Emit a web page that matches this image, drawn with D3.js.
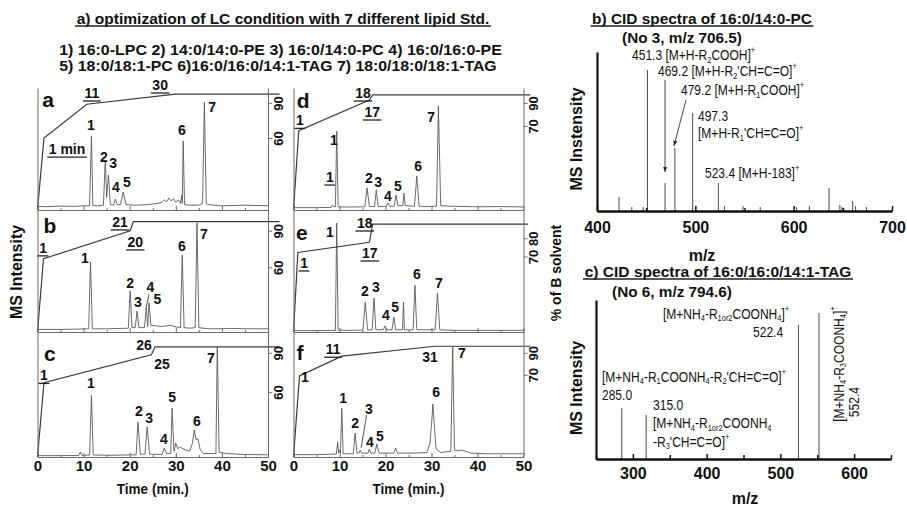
<!DOCTYPE html>
<html>
<head>
<meta charset="utf-8">
<script src="https://cdn.jsdelivr.net/npm/d3@7"></script>
<style>
body{margin:0;background:#fff}
svg{display:block;font-family:"Liberation Sans",Arial,sans-serif}
</style>
</head>
<body>
<svg id="fig" width="907" height="508"></svg>
<script>
// ---------- values ----------
var timeTicks = [0,10,20,30,40,50];
var timeMinor = [5,15,25,35,45];

// chromatogram traces [time (min), intensity % of panel]
var traceA = [[0,0.5],[2,0.3],[5,0.8],[8,0.5],[10,1],[11.3,1],[11.7,59.7],[12.0,1.5],[13,1],[14.3,1.5],[14.7,39.5],[15.0,8],[15.4,26.9],[15.8,2],[16.5,1.5],[16.9,6.7],[17.3,2],[18.0,2],[18.6,12.6],[19.2,2],[21,1.5],[24,2],[26,3],[27,4],[27.5,6],[28,4.5],[28.5,7.6],[29,5],[29.5,7],[30,4],[30.5,6],[31,3],[31.3,10],[31.4,3],[31.6,55.5],[31.9,2],[33,1.5],[35,1.5],[35.8,3],[36.2,88.2],[36.6,3],[37,2],[40,1],[45,1.5],[50,1]];
var traceB = [[0,0.5],[5,0.5],[9,0.8],[11.1,1],[11.5,57],[11.9,1],[15,1],[19.7,1.5],[20.1,32.8],[20.5,2],[21.2,2],[21.6,16],[22,2],[23.2,2],[23.6,18.5],[23.9,3],[24.2,22.7],[24.6,4],[25.5,3.5],[27,3],[28,3.5],[29,4],[29.6,3],[30.2,2.5],[31.0,2],[31.4,63],[31.8,2],[33,1.5],[34.2,2],[34.6,90],[35,2],[37,1],[42,1.2],[47,1],[50,1]];
var traceC = [[0,0.3],[5,0.3],[9,0.5],[9.3,3.2],[9.6,0.5],[11.3,0.8],[11.7,49],[12.1,0.8],[16,0.6],[21.4,1],[21.8,27.4],[22.3,1.5],[23.3,1.5],[23.8,23.4],[24.3,1.5],[27,1.2],[27.5,6.5],[28,2],[28.9,2],[29.2,38.7],[29.6,4],[30,10.5],[30.4,6],[31,7],[32,5],[33,4],[33.6,10],[34.0,21],[34.4,13],[34.8,14],[35.3,5],[36,2],[38.7,2],[39,88],[39.4,3],[41,2],[45,1.2],[50,1]];
var traceD = [[0,0.3],[5,0.3],[8.2,0.5],[8.5,2.5],[8.8,0.8],[9.1,1],[9.4,64],[9.7,1],[12,0.8],[15.5,1],[16,16.7],[16.5,1.2],[17.6,1.2],[18,15],[18.4,1.2],[20.1,1.2],[20.5,4.2],[20.9,1.5],[21.9,1.5],[22.3,10.8],[22.7,2],[23.8,2],[24,12.5],[24.3,2],[26.3,1.5],[26.8,26.7],[27.3,1.5],[29,1.2],[31.1,1.5],[31.5,85],[32,2],[34,1.5],[40,1],[45,1.2],[50,0.8]];
var traceE = [[0,0.3],[5,0.3],[9.1,0.5],[9.4,90],[9.7,0.8],[12,0.5],[15.1,0.8],[15.6,24],[16.1,1],[17.1,1],[17.5,27.5],[17.9,1],[19.5,1],[19.9,4.2],[20.3,1],[21.4,1],[21.8,11.7],[22.2,1],[23.7,1],[23.9,24],[24.1,1],[26.0,1],[26.4,38],[26.8,1],[30.8,1],[31.3,31.7],[31.8,1],[35,0.5],[40,0.5],[50,0.5]];
var traceF = [[0,0.3],[5,0.3],[9.3,0.8],[9.6,10.6],[9.8,1.5],[10.0,4],[10.2,1.5],[10.5,38],[10.8,1],[13,1],[13.4,17.9],[13.8,1.5],[14.2,1.5],[14.5,4],[14.8,1.5],[16.2,1.5],[16.5,4.9],[16.8,1.5],[17.7,1.5],[18.1,9],[18.6,1.5],[21.8,1.5],[22.2,5.7],[22.6,1.5],[26,1.5],[29,2],[29.7,10],[30.1,30],[30.3,41.5],[30.6,25],[31,5],[32,2],[34.2,3],[34.6,88],[35,4],[35.8,3.5],[36.5,4],[37.5,3],[38.5,1.5],[42,1],[50,1]];

// solvent gradients [time (min), % of B]
var gradA = [[0,-2],[1.4,60],[10.7,89],[29.9,97.7],[52.5,97.7]];
var gradB = [[0,7],[1.3,67],[20.1,90],[20.8,97.5],[52.5,97.5]];
var gradC = [[0,10],[1.4,67],[24.7,88.5],[25.5,94.6],[52.5,94.6]];
var gradD = [[0,-3],[1.15,66],[16.5,92.6],[17.2,97],[51.5,97]];
var gradE = [[0,28.3],[0.95,72.2],[16.5,77.8],[17.2,87.8],[51,87.8]];
var gradF = [[0,-5],[1.3,69],[10.5,87],[30.7,96],[51.5,96]];

// annotations [text, time, intensity, kind: 0 peak no., 1 underlined, 2 panel letter]
var notesA = [["a",2.3,90.8,2],["11",11.8,95.8,1],["30",26.6,102.5,1],["1 min",6.4,48.7,1],["1",11.6,69,0],["2",14.4,42,0],["3",16.4,37,0],["4",17.0,16.8,0],["5",19.4,21,0],["6",31.3,64.7,0],["7",37.9,84,0]];
var notesB = [["b",2.7,88,2],["21",17.9,90.8,1],["20",21.2,74,1],["1",1.2,69,1],["1",10.3,60.5,0],["2",20.1,39.5,0],["3",21.8,23.5,0],["4",24.5,36,0],["5",26.0,26,0],["6",31.3,70.6,0],["7",36.1,80.7,0]];
var notesC = [["c",2.7,83,2],["26",23.1,89.5,0],["25",27,74,0],["1",1.4,65,1],["1",11.6,59,0],["2",22,36,0],["3",24.2,30.6,0],["4",27.4,13.7,0],["5",29.2,47.6,0],["6",34.6,28,0],["7",37.6,79,0]];
var notesD = [["d",2.1,90,2],["18",15.1,95.8,1],["17",17.1,80,1],["1",1.4,73,1],["1",7.9,25.8,1],["1",8.8,56.7,0],["2",16.4,25,0],["3",18.4,21.7,0],["4",20.5,10,0],["5",22.7,18.3,0],["6",27.1,35,0],["7",29.9,75.8,0]];
var notesE = [["e",1.8,82.5,2],["1",7.9,82.5,0],["18",15.5,90,1],["17",16.6,65,1],["1",2.3,56.7,1],["2",15.5,33.3,0],["3",17.9,36.7,0],["4",20.1,13.3,0],["5",22.1,20,0],["6",26.8,47.5,0],["7",31.6,40,0]];
var notesF = [["f",1.4,83.7,2],["11",8.6,86,1],["31",29.7,79.7,0],["1",2.5,63.4,0],["1",10.8,46.3,0],["2",13.4,26,0],["3",16.4,37.4,0],["4",16.6,10.6,0],["5",18.8,15.4,0],["6",31,51,0],["7",36.6,83,0]];
var leadB = [[24.2,30],[23.5,17.6]];
var leadF = [[15.9,32.5],[14.7,5.7]];

// CID spectrum of 16:0/14:0-PC
var specBmz  = [422.4,435.4,447,451.3,469.2,479.2,497.3,523.4,529.6,548.6,566,603,616,636,647,649,651,660,663,674];
var specBint = [8.8,2.5,2.5,88.7,17.6,39.6,61.6,17.6,3.1,3.1,2.5,2.5,3.1,14.5,3.8,2.5,1.9,6.3,3.1,2.5];
var specBticks = [400,500,600,700];
var specBnotes = [["451.3 [M+H-R_{2}COOH]^{+}",435.6,98.1],["469.2 [M+H-R_{2}'CH=C=O]^{+}",462,88],["479.2 [M+H-R_{1}COOH]^{+}",485.4,76.1],["497.3",502.7,59.7],["[M+H-R_{1}'CH=C=O]^{+}",502.7,49],["523.4 [M+H-183]^{+}",509.8,23.9]];
var specBarrows = [[469.2,82.4,469.2,24.5],[490.5,69.8,478.3,40.9]];

// CID spectrum of 16:0/16:0/14:1-TAG
var specCmz  = [285,318,524.5,552.4];
var specCint = [32,27.7,84.3,91.8];
var specCticks = [300,400,500,600];
var specCminor = [250,350,450,550,650];
var specCnotes = [["[M+NH_{4}-R_{1or2}COONH_{4}]^{+}",340.8,91.2],["522.4",462.9,79.9],["[M+NH_{4}-R_{1}COONH_{4}-R_{2}'CH=C=O]^{+}",258.1,51.6],["285.0",258.1,40.3],["315.0",327.3,34],["[M+NH_{4}-R_{1or2}COONH_{4}",327.3,22.6],["-R_{3}'CH=C=O]^{+}",327.3,10.7]];
var specCrot = [["[M+NH_{4}-R_{3}COONH_{4}]^{+}",579,59.7],["552.4",599,35.8]];

// ---------- drawing ----------
var svg = d3.select("#fig");

svg.append("defs").append("marker")
  .attr("id","arr").attr("viewBox","0 0 8 6").attr("refX",8).attr("refY",3)
  .attr("markerWidth",6).attr("markerHeight",5).attr("orient","auto")
  .append("path").attr("d","M0,0L8,3L0,6z").attr("fill","#222");

function rich(text, str) {
  str.split(/(_\{[^}]*\}|\^\{[^}]*\})/).forEach(function(s){
    if (!s) return;
    if (s[0]=="_") text.append("tspan").attr("baseline-shift","sub").style("font-size","0.62em").text(s.slice(2,-1));
    else if (s[0]=="^") text.append("tspan").attr("baseline-shift","super").style("font-size","0.62em").text(s.slice(2,-1));
    else text.append("tspan").text(s);
  });
}

function place(parent, x, y, str, o) {
  o = o || {};
  var g = parent.append("g").attr("transform","translate("+x+","+y+")"+(o.rot ? " rotate("+o.rot+")" : ""));
  var t = g.append("text")
    .attr("text-anchor", o.anchor || "middle")
    .attr("dominant-baseline","central")
    .style("font-size",(o.size||14)+"px")
    .style("font-weight",o.weight||"bold")
    .attr("fill","#111");
  rich(t, str);
  var w = t.node().getComputedTextLength();
  var s = o.width ? o.width/w : (o.sx || 1);
  t.attr("transform","scale("+s+",1)");
  if (o.ul) {
    var x0 = (o.anchor=="start" ? 0 : -w*s/2) - 1.5;
    g.append("line").attr("x1",x0).attr("x2",x0+w*s+3).attr("y1",o.ul).attr("y2",o.ul)
      .attr("stroke","#222").attr("stroke-width",1.3);
  }
  return t;
}

// headings
place(svg,283,18,"a) optimization of LC condition with 7 different lipid Std.",{size:15,width:413,ul:8});
place(svg,280.5,49,"1) 16:0-LPC  2) 14:0/14:0-PE  3) 16:0/14:0-PC  4) 16:0/16:0-PE",{size:15,width:443});
place(svg,278,65,"5) 18:0/18:1-PC  6)16:0/16:0/14:1-TAG  7) 18:0/18:0/18:1-TAG",{size:15,width:438});

// chromatogram panels
var cols = [{x0:37.5,x1:268},{x0:293.5,x1:523.5}];
var rows = [{top:88,bot:210},{top:210,bot:332},{top:332,bot:457}];
var panels = [
  {col:0,row:0,base:207,h:119,trace:traceA,grad:gradA,gdom:[-2,103],gticks:[60,90],notes:notesA},
  {col:0,row:1,base:330,h:119,trace:traceB,grad:gradB,gdom:[7,107],gticks:[60,90],notes:notesB,lead:leadB},
  {col:0,row:2,base:456,h:124,trace:traceC,grad:gradC,gdom:[10,106],gticks:[60,90],notes:notesC},
  {col:1,row:0,base:208,h:120,trace:traceD,grad:gradD,gdom:[-3,103],gticks:[70,90],notes:notesD},
  {col:1,row:1,base:331,h:120,trace:traceE,grad:gradE,gdom:[28.3,95.6],gticks:[70,80],notes:notesE},
  {col:1,row:2,base:455,h:123,trace:traceF,grad:gradF,gdom:[-5,109],gticks:[70,90],notes:notesF,lead:leadF}
];

panels.forEach(function(p){
  var c = cols[p.col], r = rows[p.row];
  var x = d3.scaleLinear().domain([0,50]).range([c.x0,c.x1]);
  var yI = d3.scaleLinear().domain([0,100]).range([p.base,p.base-p.h]);
  var yG = d3.scaleLinear().domain(p.gdom).range([r.bot,r.top]);
  var g = svg.append("g");

  g.append("path").datum(p.trace)
    .attr("d",d3.line().x(function(d){return x(d[0])}).y(function(d){return yI(d[1])}))
    .attr("fill","none").attr("stroke","#5a5a5a").attr("stroke-width",0.9);

  g.append("path").datum(p.grad)
    .attr("d",d3.line().x(function(d){return x(d[0])}).y(function(d){return yG(d[1])}))
    .attr("fill","none").attr("stroke","#3a3a3a").attr("stroke-width",1.2);

  var bx = g.append("g").attr("transform","translate(0,"+r.bot+")")
    .call(d3.axisBottom(x).tickValues(timeTicks).tickSize(-4).tickSizeOuter(0).tickPadding(3)
      .tickFormat(p.row==2 ? d3.format("d") : function(){return ""}));
  g.append("g").attr("transform","translate(0,"+r.bot+")")
    .call(d3.axisBottom(x).tickValues(timeMinor).tickSize(-2).tickSizeOuter(0).tickFormat(function(){return ""}));
  g.append("g").attr("transform","translate("+c.x0+",0)")
    .call(d3.axisLeft(yG).tickValues([]).tickSizeOuter(0));
  var ra = g.append("g").attr("transform","translate("+c.x1+",0)")
    .call(d3.axisRight(yG).tickValues(p.gticks).tickSize(4).tickSizeOuter(0));
  ra.selectAll("text").attr("x",null).attr("dy",null)
    .attr("transform","translate(10,0) rotate(-90)")
    .attr("text-anchor","middle").attr("dominant-baseline","central")
    .style("font-size","13px").style("font-weight","bold").attr("fill","#111");
  bx.selectAll("text").style("font-size","15px").style("font-weight","bold").attr("fill","#111");
  g.selectAll(".domain, .tick line").attr("stroke","#6a6a6a");

  p.notes.forEach(function(n){
    place(g, x(n[1]), yI(n[2]), n[0], {size: n[3]==2 ? 21 : 14, ul: n[3]==1 ? 8 : 0});
  });
  if (p.lead) {
    g.append("path").datum(p.lead)
      .attr("d",d3.line().x(function(d){return x(d[0])}).y(function(d){return yI(d[1])}))
      .attr("stroke","#444").attr("stroke-width",0.9).attr("fill","none");
  }
});

place(svg,16,272,"MS Intensity",{size:16,rot:-90});
place(svg,556,273,"% of B solvent",{size:14,rot:-90});
place(svg,152.75,489,"Time (min.)",{size:14,width:72});
place(svg,408.5,489,"Time (min.)",{size:14,width:72});

// spectrum b
var xB = d3.scaleLinear().domain([400,700]).range([597,892]);
var yB = d3.scaleLinear().domain([0,100]).range([211,52]);
var gB = svg.append("g");
place(gB,702,18,"b) CID spectra of 16:0/14:0-PC",{size:15,width:220,ul:8});
place(gB,682,37,"(No 3, m/z 706.5)",{size:15,width:120});
gB.selectAll("line.pk").data(specBmz).join("line").attr("class","pk")
  .attr("x1",function(d){return xB(d)}).attr("x2",function(d){return xB(d)})
  .attr("y1",yB(0)).attr("y2",function(d,i){return yB(specBint[i])})
  .attr("stroke","#4a4a4a").attr("stroke-width",1);
specBarrows.forEach(function(a){
  gB.append("line").attr("x1",xB(a[0])).attr("y1",yB(a[1])).attr("x2",xB(a[2])).attr("y2",yB(a[3]))
    .attr("stroke","#333").attr("stroke-width",0.9).attr("marker-end","url(#arr)");
});
specBnotes.forEach(function(n){
  place(gB,xB(n[1]),yB(n[2]),n[0],{size:14,weight:"normal",anchor:"start",sx:0.86});
});
var axB = gB.append("g").attr("transform","translate(0,211)")
  .call(d3.axisBottom(xB).tickValues(specBticks).tickSize(-5).tickSizeOuter(0).tickPadding(11));
gB.append("g").attr("transform","translate(0,211)")
  .call(d3.axisBottom(xB).tickValues([450,550,650]).tickSize(-3).tickSizeOuter(0).tickFormat(function(){return ""}));
gB.append("g").attr("transform","translate(597,0)").call(d3.axisLeft(yB).tickValues([]).tickSizeOuter(0));
gB.selectAll(".domain").attr("stroke","#111").attr("stroke-width",2.2);
gB.selectAll(".tick line").attr("stroke","#111").attr("stroke-width",1.5);
axB.selectAll("text").style("font-size","16px").style("font-weight","bold").attr("fill","#111");
place(gB,576,139,"MS Instensity",{size:16,rot:-90});
place(gB,702,255,"m/z",{size:16});

// spectrum c
var xC = d3.scaleLinear().domain([250,650]).range([596,891]);
var yC = d3.scaleLinear().domain([0,100]).range([459,300]);
var gC = svg.append("g");
place(gC,718,271,"c) CID spectra of 16:0/16:0/14:1-TAG",{size:15,width:267,ul:8});
place(gC,672,291,"(No 6, m/z 794.6)",{size:15,width:120});
gC.selectAll("line.pk").data(specCmz).join("line").attr("class","pk")
  .attr("x1",function(d){return xC(d)}).attr("x2",function(d){return xC(d)})
  .attr("y1",yC(0)).attr("y2",function(d,i){return yC(specCint[i])})
  .attr("stroke","#4a4a4a").attr("stroke-width",1);
specCnotes.forEach(function(n){
  place(gC,xC(n[1]),yC(n[2]),n[0],{size:14,weight:"normal",anchor:"start",sx:0.86});
});
specCrot.forEach(function(n){
  place(gC,xC(n[1]),yC(n[2]),n[0],{size:14,weight:"normal",rot:-90,sx:0.86});
});
var axC = gC.append("g").attr("transform","translate(0,459)")
  .call(d3.axisBottom(xC).tickValues(specCticks).tickSize(-5).tickSizeOuter(0).tickPadding(9));
gC.append("g").attr("transform","translate(0,459)")
  .call(d3.axisBottom(xC).tickValues(specCminor).tickSize(-4).tickSizeOuter(0).tickFormat(function(){return ""}));
gC.append("g").attr("transform","translate(596,0)").call(d3.axisLeft(yC).tickValues([]).tickSizeOuter(0));
gC.selectAll(".domain").attr("stroke","#111").attr("stroke-width",2.2);
gC.selectAll(".tick line").attr("stroke","#111").attr("stroke-width",1.5);
axC.selectAll("text").style("font-size","16px").style("font-weight","bold").attr("fill","#111");
place(gC,576,388,"MS Intensity",{size:16,rot:-90});
place(gC,745,498,"m/z",{size:16});
</script>
</body>
</html>
